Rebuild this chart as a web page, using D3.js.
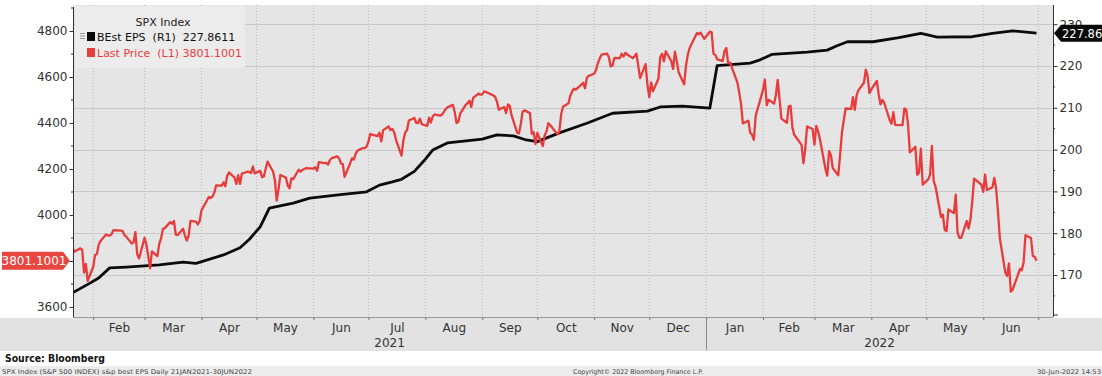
<!DOCTYPE html>
<html><head><meta charset="utf-8">
<script src="https://cdn.jsdelivr.net/npm/d3@7"></script>
<style>
html,body{margin:0;padding:0;background:#fff;}
svg{display:block;font-family:"DejaVu Sans",sans-serif;}
</style></head><body>
<svg id="chart" width="1102" height="376"></svg>
<script>
// ---- Data: SPX Index last price (L1), grouped by month ----
const priceMonths = ["2021-01","2021-02","2021-03","2021-04","2021-05","2021-06","2021-07","2021-08","2021-09","2021-10","2021-11","2021-12","2022-01","2022-02","2022-03","2022-04","2022-05","2022-06"];
const priceDays = [
  [21,22,25,26,27,28,29],
  [1,2,3,4,5,8,9,10,11,12,16,17,18,19,22,23,24,25,26],
  [1,2,3,4,5,8,9,10,11,12,15,16,17,18,19,22,23,24,25,26,29,30,31],
  [1,5,6,7,8,9,12,13,14,15,16,19,20,21,22,23,26,27,28,29,30],
  [3,4,5,6,7,10,11,12,13,14,17,18,19,20,21,24,25,26,27,28],
  [1,2,3,4,7,8,9,10,11,14,15,16,17,18,21,22,23,24,25,28,29,30],
  [1,2,6,7,8,9,12,13,14,15,16,19,20,21,22,23,26,27,28,29,30],
  [2,3,4,5,6,9,10,11,12,13,16,17,18,19,20,23,24,25,26,27,30,31],
  [1,2,3,7,8,9,10,13,14,15,16,17,20,21,22,23,24,27,28,29,30],
  [1,4,5,6,7,8,11,12,13,14,15,18,19,20,21,22,25,26,27,28,29],
  [1,2,3,4,5,8,9,10,11,12,15,16,17,18,19,22,23,24,26,29,30],
  [1,2,3,6,7,8,9,10,13,14,15,16,17,20,21,22,23,27,28,29,30,31],
  [3,4,5,6,7,10,11,12,13,14,18,19,20,21,24,25,26,27,28,31],
  [1,2,3,4,7,8,9,10,11,14,15,16,17,18,22,23,24,25,28],
  [1,2,3,4,7,8,9,10,11,14,15,16,17,18,21,22,23,24,25,28,29,30,31],
  [1,4,5,6,7,8,11,12,13,14,18,19,20,21,22,25,26,27,28,29],
  [2,3,4,5,6,9,10,11,12,13,16,17,18,19,20,23,24,25,26,27,31],
  [1,2,3,6,7,8,9,10,13,14,15,16,17,21,22,23,24,27,28,29,30]
];
const priceValues = [
  [3853,3841,3855,3849,3750,3787,3714],
  [3774,3826,3830,3871,3887,3915,3911,3910,3916,3934,3932,3931,3913,3906,3876,3881,3925,3829,3811],
  [3901,3870,3820,3768,3842,3821,3875,3898,3939,3943,3969,3962,3974,3915,3913,3940,3910,3889,3909,3974,3971,3959,3973],
  [4020,4078,4074,4080,4097,4129,4128,4142,4125,4170,4185,4163,4135,4173,4135,4180,4188,4187,4183,4211,4181],
  [4192,4165,4168,4201,4232,4189,4152,4063,4113,4174,4163,4128,4116,4159,4156,4197,4188,4196,4200,4204],
  [4202,4208,4192,4230,4226,4227,4219,4239,4247,4255,4246,4224,4221,4166,4224,4246,4241,4266,4280,4291,4291,4297],
  [4320,4352,4343,4358,4320,4369,4385,4369,4374,4360,4327,4258,4323,4359,4368,4411,4422,4401,4400,4419,4395],
  [4387,4423,4402,4429,4437,4432,4436,4447,4460,4468,4479,4448,4400,4405,4441,4479,4486,4497,4470,4509,4528,4523],
  [4524,4537,4535,4520,4514,4493,4458,4469,4443,4481,4474,4433,4358,4354,4396,4449,4455,4443,4353,4360,4308],
  [4357,4300,4346,4363,4399,4391,4361,4351,4364,4438,4471,4486,4520,4537,4549,4545,4567,4575,4551,4597,4605],
  [4614,4631,4660,4680,4697,4702,4686,4646,4650,4683,4682,4701,4689,4705,4698,4682,4690,4701,4595,4656,4567],
  [4513,4577,4538,4592,4687,4701,4668,4712,4669,4635,4710,4669,4621,4568,4649,4697,4726,4791,4786,4793,4778,4766],
  [4797,4794,4701,4696,4677,4670,4713,4726,4659,4663,4577,4533,4483,4398,4410,4357,4350,4327,4432,4516],
  [4546,4589,4477,4501,4484,4522,4587,4504,4419,4401,4472,4475,4380,4349,4305,4225,4288,4385,4374],
  [4306,4387,4364,4329,4201,4171,4278,4260,4204,4173,4262,4358,4412,4463,4461,4512,4457,4520,4543,4575,4632,4603,4530],
  [4546,4583,4525,4481,4500,4488,4413,4397,4447,4392,4391,4463,4459,4394,4272,4297,4175,4184,4288,4132],
  [4155,4175,4300,4147,4123,3991,4001,3935,3930,4024,4008,4088,3923,3901,3901,3974,3941,3979,4058,4158,4132],
  [4101,4176,4109,4121,4161,4116,4018,3901,3750,3735,3790,3667,3675,3765,3760,3796,3912,3900,3822,3819,3801.1001]
];
// ---- Data: BEst EPS (R1) ----
const epsDates = ["2021-01-21","2021-01-30","2021-02-04","2021-02-10","2021-02-19","2021-03-09","2021-03-22","2021-03-29","2021-04-13","2021-04-22","2021-04-27","2021-05-03","2021-05-08","2021-05-21","2021-05-30","2021-06-17","2021-06-30","2021-07-07","2021-07-14","2021-07-19","2021-07-26","2021-07-31","2021-08-05","2021-08-13","2021-09-01","2021-09-09","2021-09-18","2021-09-25","2021-10-01","2021-10-13","2021-10-28","2021-11-11","2021-11-30","2021-12-07","2021-12-19","2022-01-03","2022-01-07","2022-01-25","2022-01-30","2022-02-06","2022-02-25","2022-03-08","2022-03-13","2022-03-19","2022-04-02","2022-04-16","2022-04-28","2022-05-07","2022-05-26","2022-06-06","2022-06-17","2022-06-30"];
const epsValues = [165.8,168,169.3,171.7,171.9,172.4,173.1,172.8,174.8,176.5,178.5,181.5,186,187.2,188.4,189.3,189.9,191.5,192.3,192.9,194.8,197.2,199.9,201.6,202.5,203.5,203.3,202.3,201.9,204,206.3,208.7,209.2,210.2,210.4,209.9,220.1,220.7,221.4,222.8,223.3,223.8,224.8,225.8,225.8,226.8,227.8,226.9,227,227.8,228.4,227.8611];
// ---- Axis ticks / labels ----
const leftTickValues = [3600,3800,4000,4200,4400,4600,4800];
const leftHiddenLabels = [3800]; // covered by the last-price badge in the reference
const leftMinorTicks = [3700,3900,4100,4300,4500,4700,4900];
const rightTickValues = [170,180,190,200,210,220,230];
const rightMinorTicks = [165,175,185,195,205,215,225];
const legendTitle = "SPX Index";
const legendLabels = ["BEst EPS  (R1)  227.8611", "Last Price  (L1) 3801.1001"];
const lastPriceLabel = "3801.1001";
const lastEpsLabel = "227.8611";
const yearLabels = ["2021","2022"];
const footerLeft = "SPX Index (S&P 500 INDEX) s&p best EPS  Daily 21JAN2021-30JUN2022";
const footerMid = "Copyright\u00A9 2022 Bloomberg Finance L.P.";
const footerRight = "30-Jun-2022 14:53";
const sourceText = "Source: Bloomberg";

const parse = d3.utcParse("%Y-%m-%d");
const priceData = [];
priceMonths.forEach((m, i) => {
  priceDays[i].forEach((d, j) => {
    priceData.push({date: parse(m + "-" + String(d).padStart(2, "0")), value: priceValues[i][j]});
  });
});
const epsData = epsDates.map((d, i) => ({date: parse(d), value: epsValues[i]}));

const svg = d3.select("#chart");
const P = {l: 73, r: 1053, t: 5, b: 317};
const RED = "#e83b3b", BLACK = "#0b0b0b";

const x = d3.scaleUtc().domain([Date.UTC(2021,0,21), Date.UTC(2022,6,9)]).range([P.l, P.r]);
const yL = d3.scaleLinear().domain([3600, 4800]).range([307, 31]);
const yR = d3.scaleLinear().domain([170, 220]).range([275, 66]);

svg.append("rect").attr("width", 1102).attr("height", 376).attr("fill", "#fff");
svg.append("rect").attr("x", 0).attr("y", 318).attr("width", 1102).attr("height", 33).attr("fill", "#e2e2e2");
svg.append("rect").attr("x", 0).attr("y", 366).attr("width", 1102).attr("height", 10).attr("fill", "#ececec");
svg.append("rect").attr("x", P.l).attr("y", P.t).attr("width", P.r - P.l).attr("height", P.b - P.t).attr("fill", "#e5e5e5");

const monthStarts = d3.utcMonth.range(d3.utcMonth.ceil(x.domain()[0]), x.domain()[1]);
svg.append("g").selectAll("line").data(monthStarts).join("line")
  .attr("x1", d => x(d)).attr("x2", d => x(d)).attr("y1", P.t).attr("y2", P.b)
  .attr("stroke", "#b9b9b9").attr("stroke-width", 1).attr("stroke-dasharray", "1,2");
svg.append("g").selectAll("line").data(rightTickValues).join("line")
  .attr("x1", P.l).attr("x2", P.r).attr("y1", d => Math.round(yR(d)) + 0.5).attr("y2", d => Math.round(yR(d)) + 0.5)
  .attr("stroke", "#c9c9c9").attr("stroke-width", 1);

svg.append("clipPath").attr("id", "clip").append("rect")
  .attr("x", P.l).attr("y", P.t).attr("width", P.r - P.l).attr("height", P.b - P.t);

const lineL = d3.line().x(d => x(d.date)).y(d => yL(d.value));
const lineR = d3.line().x(d => x(d.date)).y(d => yR(d.value));
const lines = svg.append("g").attr("clip-path", "url(#clip)");
lines.append("path").datum(epsData).attr("d", lineR).attr("fill", "none")
  .attr("stroke", BLACK).attr("stroke-width", 2.8).attr("stroke-linejoin", "round");
lines.append("path").datum(priceData).attr("d", lineL).attr("fill", "none")
  .attr("stroke", RED).attr("stroke-width", 2.3).attr("stroke-linejoin", "round");

// legend
const lg = svg.append("g");
lg.append("rect").attr("x", 75).attr("y", 6).attr("width", 170).attr("height", 62).attr("fill", "#ececec");
lg.append("text").attr("x", 163).attr("y", 26).attr("text-anchor", "middle").attr("font-size", 11).attr("fill", "#222").text(legendTitle);
[[BLACK, 41], [RED, 57]].forEach(([c, yy], i) => {
  lg.append("rect").attr("x", 87).attr("y", yy - 9).attr("width", 8).attr("height", 9).attr("fill", c);
  lg.append("text").attr("x", 97).attr("y", yy).attr("font-size", 11).attr("fill", c === RED ? RED : "#111")
    .style("white-space", "pre").text(legendLabels[i]);
});
[33.5, 36, 38.5].forEach(yy => lg.append("line").attr("x1", 80).attr("x2", 85).attr("y1", yy).attr("y2", yy).attr("stroke", "#999").attr("stroke-width", 1));

// left axis
const axL = svg.append("g").attr("transform", `translate(${P.l + 0.5},0)`)
  .call(d3.axisLeft(yL).tickValues(leftTickValues).tickSize(4).tickSizeOuter(0)
    .tickFormat(d => leftHiddenLabels.includes(d) ? "" : d3.format("d")(d)));
axL.select(".domain").remove();
axL.selectAll("line").attr("stroke", "#333");
axL.selectAll("text").attr("font-size", 12).attr("fill", "#333").attr("font-family", "DejaVu Sans").attr("x", -6);
svg.append("g").selectAll("line").data(leftMinorTicks).join("line")
  .attr("x1", P.l - 2).attr("x2", P.l).attr("y1", d => yL(d)).attr("y2", d => yL(d)).attr("stroke", "#333");
svg.append("line").attr("x1", P.l + 0.5).attr("x2", P.l + 0.5).attr("y1", 7).attr("y2", P.b).attr("stroke", "#333");

// right axis
const axR = svg.append("g").attr("transform", `translate(${P.r + 0.5},0)`)
  .call(d3.axisRight(yR).tickValues(rightTickValues).tickSize(4).tickSizeOuter(0).tickFormat(d3.format("d")));
axR.select(".domain").remove();
axR.selectAll("line").attr("stroke", "#333");
axR.selectAll("text").attr("font-size", 12).attr("fill", "#333").attr("font-family", "DejaVu Sans").attr("x", 6);
svg.append("g").selectAll("line").data(rightMinorTicks).join("line")
  .attr("x1", P.r).attr("x2", P.r + 2).attr("y1", d => yR(d)).attr("y2", d => yR(d)).attr("stroke", "#333");
svg.append("line").attr("x1", P.r + 0.5).attr("x2", P.r + 0.5).attr("y1", P.t).attr("y2", P.b).attr("stroke", "#333");
svg.append("line").attr("x1", P.r).attr("x2", P.r + 5).attr("y1", P.b - 2).attr("y2", P.b - 2).attr("stroke", "#333");

// bottom axis
svg.append("line").attr("x1", P.l).attr("x2", P.r).attr("y1", P.b + 0.5).attr("y2", P.b + 0.5).attr("stroke", "#9a9a9a");
const axB = svg.append("g").attr("transform", `translate(0,${P.b})`)
  .call(d3.axisBottom(x).tickValues(monthStarts).tickSize(3).tickSizeOuter(0).tickFormat(""));
axB.select(".domain").remove();
axB.selectAll("line").attr("stroke", "#777");
const fullMonths = monthStarts.filter(m => d3.utcMonth.offset(m, 1) <= x.domain()[1]);
const midMonths = fullMonths.map(m => new Date((+m + +d3.utcMonth.offset(m, 1)) / 2));
const axB2 = svg.append("g").attr("transform", `translate(0,${P.b})`)
  .call(d3.axisBottom(x).tickValues(midMonths).tickSize(0).tickFormat(d3.utcFormat("%b")));
axB2.select(".domain").remove();
axB2.selectAll("text").attr("font-size", 12).attr("fill", "#333").attr("font-family", "DejaVu Sans").attr("dy", 0).attr("y", 15);
const jan22 = Date.UTC(2022,0,1);
const yearSpans = [[x.domain()[0], jan22], [jan22, x.domain()[1]]];
svg.append("g").selectAll("text").data(yearLabels).join("text")
  .attr("x", (d, i) => (x(yearSpans[i][0]) + x(yearSpans[i][1])) / 2).attr("y", 347)
  .attr("text-anchor", "middle").attr("font-size", 12).attr("fill", "#333").text(d => d);
svg.append("line").attr("x1", Math.round(x(jan22)) + 0.5).attr("x2", Math.round(x(jan22)) + 0.5)
  .attr("y1", 318).attr("y2", 350).attr("stroke", "#888");

// badges
const yb = yL(3801.1001);
svg.append("path").attr("d", `M2,${yb - 9}H63L70,${yb}L63,${yb + 9}H2Z`).attr("fill", "#e8463f");
svg.append("text").attr("x", 34).attr("y", yb + 4.5).attr("text-anchor", "middle").attr("font-size", 12).attr("fill", "#fff").text(lastPriceLabel);
const ye = yR(227.8611);
svg.append("path").attr("d", `M${P.r + 1},${ye}L${P.r + 8},${ye - 8.5}H1102V${ye + 8.5}H${P.r + 8}Z`).attr("fill", "#0a0a0a");
svg.append("text").attr("x", P.r + 9).attr("y", ye + 4.5).attr("font-size", 11.5).attr("fill", "#fff").text(lastEpsLabel);

// footer
svg.append("text").attr("x", 5).attr("y", 362).attr("font-size", 10).attr("font-weight", "bold").attr("fill", "#111")
  .attr("textLength", 100).attr("lengthAdjust", "spacingAndGlyphs").text(sourceText);
svg.append("text").attr("x", 2).attr("y", 373.5).attr("font-size", 6.5).attr("fill", "#444")
  .attr("textLength", 250).attr("lengthAdjust", "spacingAndGlyphs").text(footerLeft);
svg.append("text").attr("x", 573).attr("y", 373.5).attr("font-size", 6.5).attr("fill", "#444")
  .attr("textLength", 130).attr("lengthAdjust", "spacingAndGlyphs").text(footerMid);
svg.append("text").attr("x", 1037).attr("y", 373.5).attr("font-size", 6.5).attr("fill", "#444")
  .attr("textLength", 64).attr("lengthAdjust", "spacingAndGlyphs").text(footerRight);
</script>
</body></html>
